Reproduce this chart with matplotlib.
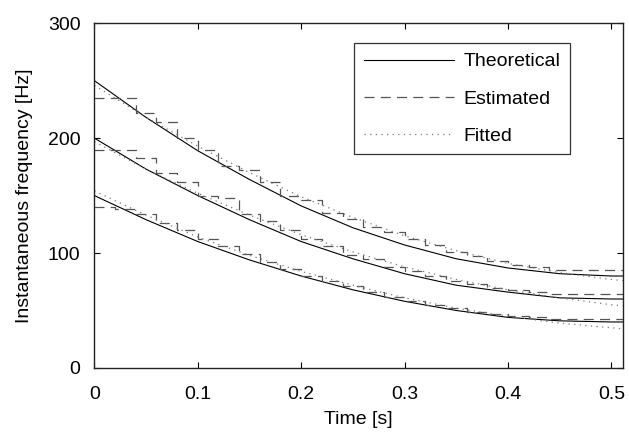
import numpy as np
import matplotlib
matplotlib.use('Agg')
import matplotlib.pyplot as plt

plt.rcParams['font.family'] = ['Liberation Sans', 'DejaVu Sans']
plt.rcParams['font.size'] = 14

# smooth curves, read every 0.05 s
t_curve = [0, 0.05, 0.1, 0.15, 0.2, 0.25, 0.3, 0.35, 0.4, 0.45, 0.5, 0.511]
theo_hi = [250, 218, 189, 164, 141, 122, 107, 95, 87, 82, 80, 80]
theo_mid = [200, 173, 150, 129, 110, 95, 82, 72, 66, 61, 60, 60]
theo_lo = [150, 129, 110, 94, 80, 68, 58, 50, 44, 41, 40, 40]
fit_hi = [246, 218, 193, 170, 149, 131, 115, 102, 91, 83, 77, 76]
fit_mid = [197, 173, 152, 133, 116, 101, 88, 77, 68, 61, 55, 54]
fit_lo = [154, 133, 114, 98, 84, 72, 61, 52, 45, 39, 35, 34]

# staircase estimates, one step every 0.02 s
t_est = [0, 0.02, 0.04, 0.06, 0.08, 0.10, 0.12, 0.14, 0.16, 0.18, 0.20, 0.22, 0.24,
         0.26, 0.28, 0.30, 0.32, 0.34, 0.36, 0.38, 0.40, 0.42, 0.44, 0.46, 0.48, 0.50]
est_hi = [235, 235, 222, 214, 200, 190, 176, 172, 162, 150, 146, 135, 130,
          123, 118, 112, 107, 101, 97, 93, 90, 88, 85, 85, 85, 85]
est_mid = [190, 190, 183, 170, 162, 150, 148, 134, 128, 120, 112, 106, 98,
           95, 88, 84, 80, 76, 73, 70, 68, 66, 64, 64, 64, 64]
est_lo = [140, 138, 134, 126, 120, 112, 106, 99, 92, 86, 80, 76, 71,
          66, 62, 58, 55, 52, 49, 47, 45, 44, 43, 43, 43, 43]

fig = plt.figure(figsize=(6.29, 4.37), dpi=100)
ax = fig.add_axes([0.150, 0.158, 0.840, 0.789])

te = t_est + [0.511]
for i, (th, es, fi) in enumerate([(theo_hi, est_hi, fit_hi),
                                  (theo_mid, est_mid, fit_mid),
                                  (theo_lo, est_lo, fit_lo)]):
    ax.plot(t_curve, th, color='black', lw=0.8,
            label='Theoretical' if i == 0 else None)
    ax.step(te, es + [es[-1]], where='post', color='#555555', lw=0.9,
            dashes=(8, 5), label='Estimated' if i == 0 else None)
    ax.plot(t_curve, fi, color='#777777', lw=0.9, linestyle=(0, (1, 3.5)),
            label='Fitted' if i == 0 else None)

ax.set_xlim(0, 0.511)
ax.set_ylim(0, 300)
ax.set_xticks([0, 0.1, 0.2, 0.3, 0.4, 0.5])
ax.set_xticklabels(['0', '0.1', '0.2', '0.3', '0.4', '0.5'])
ax.set_yticks([0, 100, 200, 300])
ax.tick_params(direction='in', top=True, right=True, length=4, width=0.8)
ax.tick_params(axis='x', pad=13)
ax.tick_params(axis='y', pad=10)
for s in ax.spines.values():
    s.set_linewidth(1.0)
    s.set_color('#222222')
ax.set_xlabel('Time [s]', labelpad=6)
ax.set_ylabel('Instantaneous frequency [Hz]', labelpad=11)

leg = ax.legend(loc='upper right', bbox_to_anchor=(0.90, 0.942),
                handlelength=4.6, handletextpad=0.5, labelspacing=1.0,
                fancybox=False, framealpha=1, edgecolor='#333333',
                borderpad=0.5, borderaxespad=0)
leg.get_frame().set_linewidth(0.9)

fig.savefig('out.png', dpi=100)
